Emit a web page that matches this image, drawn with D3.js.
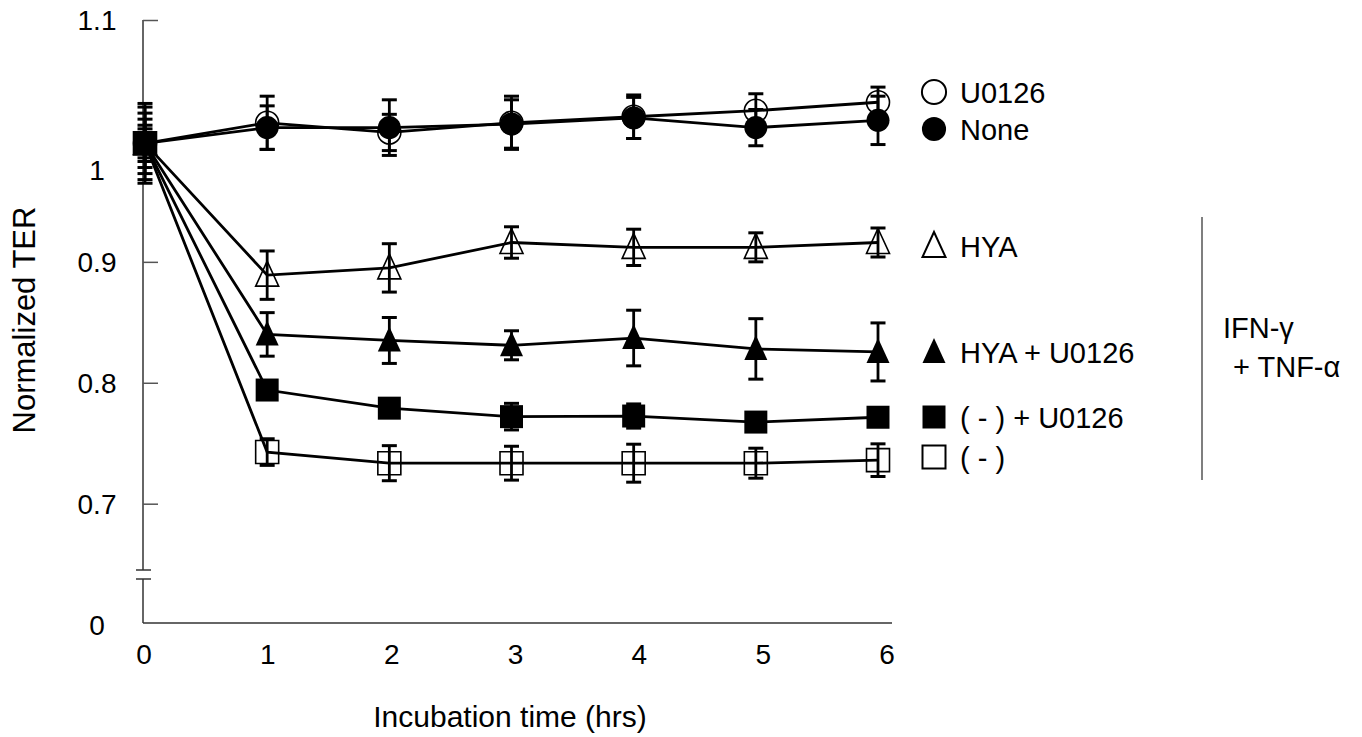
<!DOCTYPE html>
<html><head><meta charset="utf-8">
<script src="https://cdn.jsdelivr.net/npm/d3@7"></script>
<style>body{margin:0;background:#fff} svg{display:block} text{font-family:"Liberation Sans",Arial,sans-serif;fill:#000}</style>
</head><body><svg id="c" width="1362" height="737"></svg>
<script>
// ---- data ----
const times = [0, 1, 2, 3, 4, 5, 6];
const u0126    = [0.998, 1.015, 1.007, 1.015, 1.020, 1.025, 1.032];
const u0126Err = [0.030, 0.022, 0.015, 0.022, 0.018, 0.014, 0.0125];
const none     = [0.998, 1.011, 1.011, 1.014, 1.019, 1.011, 1.017];
const noneErr  = [0.025, 0.018, 0.023, 0.020, 0.017, 0.015, 0.020];
const hya      = [0.998, 0.889, 0.895, 0.916, 0.912, 0.912, 0.916];
const hyaErr   = [0.020, 0.020, 0.020, 0.013, 0.015, 0.012, 0.012];
const hyaU     = [0.998, 0.840, 0.835, 0.831, 0.837, 0.828, 0.8255];
const hyaUErr  = [0.015, 0.018, 0.019, 0.012, 0.023, 0.025, 0.024];
const negU     = [0.998, 0.794, 0.779, 0.772, 0.7725, 0.7675, 0.7715];
const negUErr  = [0.012, 0.006, 0.007, 0.011, 0.010, 0.007, 0.006];
const neg      = [0.998, 0.7427, 0.7335, 0.7335, 0.7335, 0.7335, 0.736];
const negErr   = [0.033, 0.011, 0.0145, 0.014, 0.0157, 0.0124, 0.0135];
const seriesNames = ["U0126", "None", "HYA", "HYA + U0126", "( - ) + U0126", "( - )"];
const seriesShapes = ["circle", "circle", "triangle", "triangle", "square", "square"];
const seriesFilled = [false, true, false, true, true, false];
const yTickValues = [1.1, 1.0, 0.9, 0.8, 0.7];
const yTickLabels = ["1.1", "1", "0.9", "0.8", "0.7"];
const yBreakLabel = "0";
const xTickLabels = ["0", "1", "2", "3", "4", "5", "6"];
const groupLabel = ["IFN-γ", "+ TNF-α"];
const xTitle = "Incubation time (hrs)";
const yTitle = "Normalized TER";

const values = [u0126, none, hya, hyaU, negU, neg];
const errors = [u0126Err, noneErr, hyaErr, hyaUErr, negUErr, negErr];

// ---- layout ----
const svg = d3.select("#c");
const x = d3.scaleLinear().domain([0, 6]).range([145, 878]);
const xl = d3.scaleLinear().domain([0, 6]).range([144, 887]);
const y = d3.scaleLinear().domain([0.7, 1.1]).range([503.7, 20]);
const axisX = 143, axisBottom = 623, breakTop = 570, breakBot = 579, axisRight = 892;
const axisCol = "#333";

// y axis line (broken)
svg.append("line").attr("x1", axisX).attr("x2", axisX).attr("y1", y(1.1)).attr("y2", breakTop).attr("stroke", axisCol).attr("stroke-width", 1.5);
svg.append("line").attr("x1", axisX).attr("x2", axisX).attr("y1", breakBot).attr("y2", axisBottom).attr("stroke", axisCol).attr("stroke-width", 1.5);
[breakTop, breakBot].forEach(v => svg.append("line").attr("x1", axisX - 7).attr("x2", axisX + 8).attr("y1", v).attr("y2", v).attr("stroke", axisCol).attr("stroke-width", 1.5));
// x axis line
svg.append("line").attr("x1", axisX).attr("x2", axisRight).attr("y1", axisBottom).attr("y2", axisBottom).attr("stroke", axisCol).attr("stroke-width", 1.5);

// y ticks (inside)
const yAxis = d3.axisLeft(y).tickValues(yTickValues).tickSize(-15).tickFormat("");
const gy = svg.append("g").attr("transform", `translate(${axisX},0)`).call(yAxis);
gy.select(".domain").remove();
gy.selectAll(".tick line").attr("stroke", "#555").attr("stroke-width", 1.5);

// y tick labels
const tickFont = 28;
svg.append("g").selectAll("text").data(yTickValues).join("text")
  .attr("x", 97).attr("y", (d, i) => y(d) + (yTickLabels[i] === "1" ? 29 : 0))
  .attr("dy", "0.36em").attr("text-anchor", "middle").attr("font-size", tickFont)
  .text((d, i) => yTickLabels[i]);
svg.append("text").attr("x", 97).attr("y", axisBottom + 2).attr("dy", "0.36em").attr("text-anchor", "middle").attr("font-size", tickFont).text(yBreakLabel);

// x tick labels
svg.append("g").selectAll("text").data(times).join("text")
  .attr("x", d => xl(d)).attr("y", 654).attr("dy", "0.36em").attr("text-anchor", "middle").attr("font-size", tickFont)
  .text((d, i) => xTickLabels[i]);

// titles
svg.append("text").attr("x", 510).attr("y", 727).attr("text-anchor", "middle").attr("font-size", 30).text(xTitle);
svg.append("text").attr("transform", "translate(35,320) rotate(-90)").attr("text-anchor", "middle").attr("font-size", 31).text(yTitle);

// markers
function markerPath(shape, s) {
  const p = d3.path();
  if (shape === "circle") { p.moveTo(s * 11.5, 0); p.arc(0, 0, s * 11.5, 0, Math.PI * 2); }
  else if (shape === "square") { p.rect(-11.5 * s, -11.5 * s, 23 * s, 23 * s); }
  else { p.moveTo(0, -14 * s); p.lineTo(11.5 * s, 11 * s); p.lineTo(-11.5 * s, 11 * s); p.closePath(); }
  return p.toString();
}

const line = d3.line().x((d, i) => x(times[i])).y(d => y(d));
const plot = svg.append("g");
values.forEach((vals, k) => {
  plot.append("path").attr("d", line(vals)).attr("fill", "none").attr("stroke", "#000").attr("stroke-width", 2.8);
});
values.forEach((vals, k) => {
  const g = plot.append("g");
  g.selectAll("path.m").data(vals).join("path").attr("class", "m")
    .attr("transform", (d, i) => `translate(${x(times[i])},${y(d)})`)
    .attr("d", markerPath(seriesShapes[k], 1))
    .attr("fill", seriesFilled[k] ? "#000" : "none")
    .attr("stroke", seriesFilled[k] ? "none" : "#000").attr("stroke-width", 1.6);
  vals.forEach((d, i) => {
    const cx = x(times[i]), e = errors[k][i];
    const y1 = y(d + e), y2 = y(d - e);
    g.append("line").attr("x1", cx).attr("x2", cx).attr("y1", y1).attr("y2", y2).attr("stroke", "#000").attr("stroke-width", 2.8);
    [y1, y2].forEach(yy => g.append("line").attr("x1", cx - 7.5).attr("x2", cx + 7.5).attr("y1", yy).attr("y2", yy).attr("stroke", "#000").attr("stroke-width", 3));
  });
});

// legend
const legendY = [92, 129, 246, 352, 417, 457];
const legendX = 934, legendTextX = 960;
const lg = svg.append("g");
seriesNames.forEach((name, k) => {
  lg.append("path").attr("transform", `translate(${legendX},${legendY[k]})`)
    .attr("d", markerPath(seriesShapes[k], seriesShapes[k] === "circle" ? 1.05 : 1))
    .attr("fill", seriesFilled[k] ? "#000" : "none")
    .attr("stroke", seriesFilled[k] ? "none" : "#000").attr("stroke-width", 2);
  lg.append("text").attr("x", legendTextX).attr("y", legendY[k] + 10.5).attr("font-size", 29).text(name);
});

// group bracket
svg.append("line").attr("x1", 1202).attr("x2", 1202).attr("y1", 217).attr("y2", 480).attr("stroke", "#555").attr("stroke-width", 1.5);
svg.append("text").attr("x", 1223).attr("y", 338).attr("font-size", 29).text(groupLabel[0]);
svg.append("text").attr("x", 1233).attr("y", 377).attr("font-size", 29).text(groupLabel[1]);
</script></body></html>
